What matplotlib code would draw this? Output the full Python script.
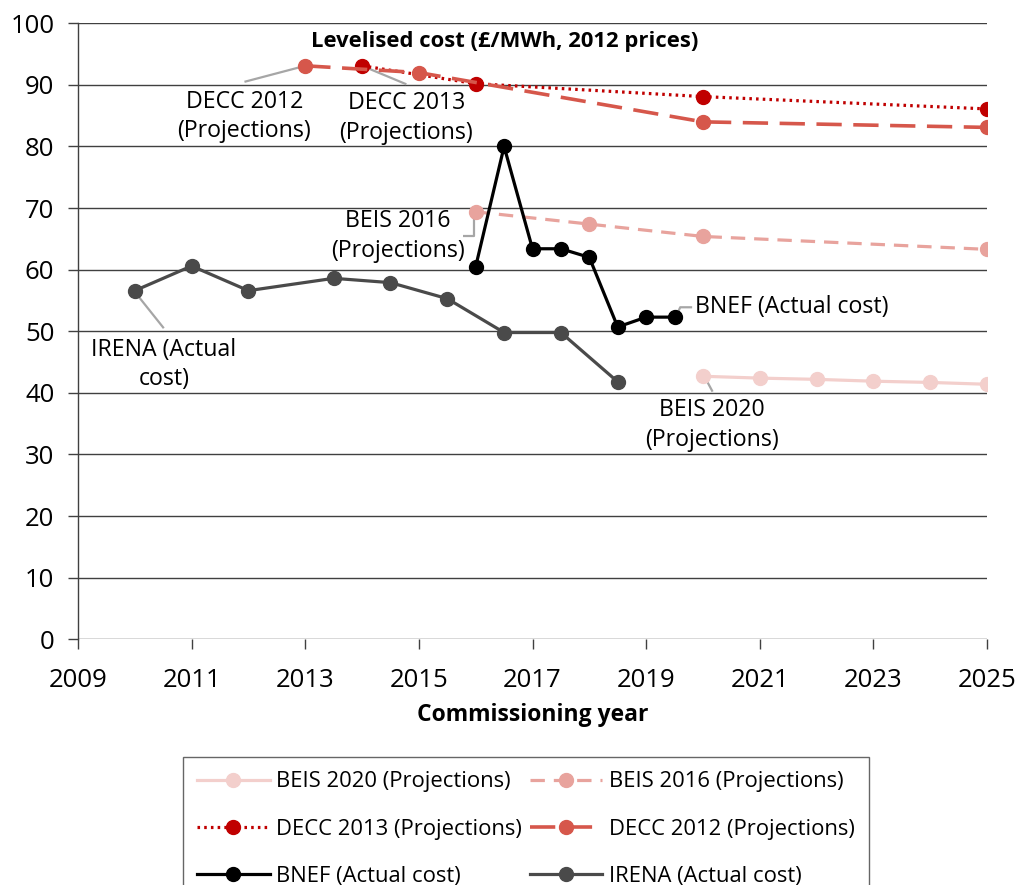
import matplotlib
matplotlib.use("Agg")
import matplotlib.pyplot as plt

plt.rcParams['font.family'] = ['Open Sans', 'DejaVu Sans']

# ---- data ----
beis2020_x = [2020, 2021, 2022, 2023, 2024, 2025]
beis2020_y = [42.7, 42.4, 42.2, 41.9, 41.7, 41.4]

beis2016_x = [2016, 2018, 2020, 2025]
beis2016_y = [69.4, 67.4, 65.4, 63.3]

decc2013_x = [2014, 2016, 2020, 2025]
decc2013_y = [93.1, 90.2, 88.1, 86.1]

decc2012_x = [2013, 2015, 2020, 2025]
decc2012_y = [93.1, 92.0, 84.0, 83.1]

bnef_x = [2016, 2016.5, 2017, 2017.5, 2018, 2018.5, 2019, 2019.5]
bnef_y = [60.5, 80.0, 63.4, 63.4, 62.0, 50.7, 52.3, 52.3]

irena_x = [2010, 2011, 2012, 2013.5, 2014.5, 2015.5, 2016.5, 2017.5, 2018.5]
irena_y = [56.6, 60.6, 56.6, 58.6, 57.9, 55.3, 49.8, 49.8, 41.8]

x_ticks = [2009, 2011, 2013, 2015, 2017, 2019, 2021, 2023, 2025]
y_ticks = [0, 10, 20, 30, 40, 50, 60, 70, 80, 90, 100]

title = "Levelised cost (£/MWh, 2012 prices)"
xlabel = "Commissioning year"

# ---- figure ----
fig = plt.figure(figsize=(10.19, 8.85), dpi=100)
ax = fig.add_axes([78/1019, 1-639.3/885, (987-78)/1019, (639.3-23.3)/885])

ms = 10
l1, = ax.plot(beis2020_x, beis2020_y, color='#f3cfcc', lw=2.3, marker='o', ms=ms,
              label='BEIS 2020 (Projections)', zorder=3)
l2, = ax.plot(beis2016_x, beis2016_y, color='#e8a39d', lw=2.3, marker='o', ms=ms,
              dashes=(4.5, 2.8), label='BEIS 2016 (Projections)', zorder=3)
l3, = ax.plot(decc2013_x, decc2013_y, color='#c00000', lw=2.3, marker='o', ms=ms,
              dashes=(0.8, 1.3), label='DECC 2013 (Projections)', zorder=3)
l4, = ax.plot(decc2012_x, decc2012_y, color='#d6574b', lw=2.6, marker='o', ms=ms,
              dashes=(7, 3.2), label='DECC 2012 (Projections)', zorder=3)
l5, = ax.plot(bnef_x, bnef_y, color='#000000', lw=2.3, marker='o', ms=ms,
              label='BNEF (Actual cost)', zorder=4)
l6, = ax.plot(irena_x, irena_y, color='#4a4a4a', lw=2.3, marker='o', ms=ms,
              label='IRENA (Actual cost)', zorder=4)

ax.set_xlim(2009, 2025)
ax.set_ylim(0, 100)
ax.set_xticks(x_ticks)
ax.set_yticks(y_ticks)
ax.yaxis.grid(True, color='#404040', lw=1.0)
ax.set_axisbelow(True)
for s in ['top', 'right', 'bottom']:
    ax.spines[s].set_visible(False)
ax.spines['left'].set_color('#404040')
ax.spines['left'].set_linewidth(1.0)
ax.tick_params(axis='both', labelsize=18.5, color='#404040', length=7, width=1,
               direction='out')
ax.tick_params(axis='x', pad=14)
ax.tick_params(axis='y', pad=10)
ax.set_xlabel(xlabel, fontsize=16.5, fontweight='bold', labelpad=7)

ax.text(2016.51, 97.0, title, ha='center', va='center', fontsize=15.8,
        fontweight='bold')

lead = dict(color='#a6a6a6', lw=1.6, zorder=2, solid_capstyle='butt')
fs_ann = 16.7
lsp = 1.3

# DECC 2012
ax.plot([2011.93, 2013.0], [90.5, 93.1], **lead)
ax.text(2011.93, 84.9, "DECC 2012\n(Projections)", ha='center', va='center',
        fontsize=fs_ann, linespacing=lsp)
# DECC 2013
ax.plot([2014.78, 2014.0], [90.1, 93.1], **lead)
ax.text(2014.78, 84.6, "DECC 2013\n(Projections)", ha='center', va='center',
        fontsize=fs_ann, linespacing=lsp)
# BEIS 2016
ax.plot([2015.78, 2015.97, 2015.97], [65.5, 65.5, 68.9], **lead)
ax.text(2014.63, 65.5, "BEIS 2016\n(Projections)", ha='center', va='center',
        fontsize=fs_ann, linespacing=lsp)
# BNEF
ax.plot([2019.81, 2019.60, 2019.52], [53.9, 53.9, 52.3], **lead)
ax.text(2019.86, 53.9, "BNEF (Actual cost)", ha='left', va='center',
        fontsize=fs_ann)
# IRENA
ax.plot([2010.0, 2010.51], [56.4, 50.5], **lead)
ax.text(2010.51, 44.6, "IRENA (Actual\ncost)", ha='center', va='center',
        fontsize=fs_ann, linespacing=lsp)
# BEIS 2020
ax.plot([2020.03, 2020.17], [42.6, 40.2], **lead)
ax.text(2020.16, 34.8, "BEIS 2020\n(Projections)", ha='center', va='center',
        fontsize=fs_ann, linespacing=lsp)

handles = [l1, l3, l5, l2, l4, l6]
leg = fig.legend(handles=handles, ncol=2, loc='upper left',
                 bbox_to_anchor=(183/1019, 1-757/885), borderaxespad=0,
                 fontsize=15.8, frameon=True, fancybox=False, edgecolor='#404040',
                 handlelength=3.3, handletextpad=0.3, columnspacing=0.35,
                 labelspacing=1.2, borderpad=0.65, numpoints=1)
leg.get_frame().set_linewidth(1.0)

fig.savefig("out.png", dpi=100)
